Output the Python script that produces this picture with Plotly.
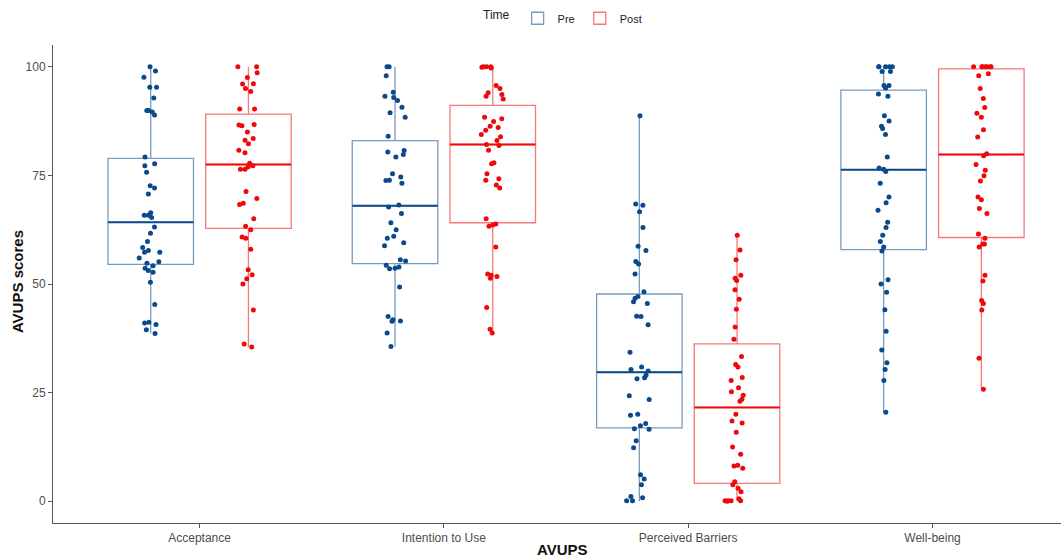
import plotly.graph_objects as go

categories = ["Acceptance", "Intention to Use", "Perceived Barriers", "Well-being"]
groups = ["Pre", "Post"]

# Raw (jittered) scores
acc_pre = [100, 99.0, 97.6, 95.3, 95.3, 92.8, 89.9, 89.6, 89.9, 88.9, 79.2, 77.7, 77.2, 75.7,
           72.6, 72.1, 70.7, 66.4, 65.8, 65.8, 65.3, 63.1, 61.7, 59.8, 58.4, 57.7, 57.3, 57.3,
           56.0, 55.1, 54.8, 54.2, 53.6, 53.1, 52.7, 50.4, 45.3, 41.0, 41.2, 40.7, 39.5, 38.6]
acc_post = [100, 98.6, 100, 97.5, 96.1, 96.0, 95.0, 94.3, 90.3, 90.3, 86.6, 86.7, 86.4, 85.0,
            83.5, 83.1, 82.3, 80.8, 80.2, 77.8, 77.2, 77.0, 76.4, 76.4, 71.3, 69.7, 68.6, 68.3,
            65.0, 63.3, 62.5, 60.8, 60.5, 58.0, 53.3, 52.1, 51.2, 50.0, 44.0, 36.2, 35.5]
int_pre = [100, 100, 97.9, 94.1, 93.2, 92.9, 92.2, 90.7, 89.4, 88.4, 84.0, 80.7, 80.4, 79.8,
           79.2, 75.4, 74.6, 73.8, 73.9, 73.2, 68.2, 67.7, 66.2, 64.1, 62.5, 61.0, 60.5, 59.5,
           58.8, 55.3, 55.6, 54.3, 53.9, 53.6, 53.5, 49.3, 42.5, 41.5, 41.8, 41.4, 38.7, 35.6]
int_post = [100, 100, 100, 99.9, 99.7, 95.7, 95.0, 94.0, 93.6, 93.2, 92.6, 88.4, 88.0, 87.4,
            86.3, 86.0, 85.4, 84.4, 83.9, 83.0, 82.1, 81.9, 80.8, 77.9, 77.7, 75.4, 74.2, 73.9,
            72.8, 72.1, 65.0, 63.8, 63.6, 63.3, 58.5, 52.3, 52.0, 51.7, 51.3, 44.6, 39.6, 38.7]
bar_pre = [88.7, 68.4, 68.1, 66.6, 63.0, 58.7, 57.7, 55.2, 54.6, 52.3, 48.2, 47.1, 46.7, 45.9,
           45.5, 42.5, 42.6, 40.6, 34.3, 30.9, 30.3, 30.0, 29.0, 28.4, 28.2, 24.3, 23.4, 20.0,
           19.8, 17.4, 17.9, 16.6, 16.7, 13.9, 12.3, 6.1, 5.1, 3.8, 1.1, 0.8, 0.1, 0.1]
bar_post = [61.2, 57.8, 55.6, 52.0, 51.3, 50.8, 48.7, 46.5, 44.2, 40.1, 37.3, 33.3, 31.5, 30.9,
            28.5, 27.8, 26.1, 25.2, 24.4, 23.5, 23.0, 20.0, 18.5, 18.0, 15.9, 12.5, 10.8, 8.3,
            8.1, 7.6, 4.5, 3.8, 3.0, 2.2, 0.1, 0.1, 0.1, 0.1, 0.6, 0.0]
wb_pre = [100, 100, 100, 100, 100, 98.9, 98.9, 95.7, 95.7, 95.1, 93.7, 93.2, 88.7, 87.5, 86.3,
          85.8, 84.4, 79.2, 76.7, 76.4, 75.9, 73.2, 70.0, 68.7, 67.0, 64.2, 63.0, 61.2, 59.8,
          58.5, 57.6, 51.0, 50.0, 48.1, 44.1, 39.1, 34.8, 31.9, 30.3, 27.8, 20.5]
wb_post = [100, 100, 100, 100, 100, 100, 100, 98.4, 97.9, 95.0, 92.7, 90.6, 89.3, 88.4, 85.5,
           83.8, 80.0, 79.5, 77.5, 76.2, 74.9, 73.7, 70.0, 69.4, 67.4, 66.2, 61.5, 60.5, 59.2,
           59.2, 58.5, 52.0, 50.7, 46.2, 45.5, 44.0, 32.9, 25.8]

# Box statistics (per category)
pre_q1 = [54.5, 54.7, 16.9, 57.9]
pre_med = [64.2, 68.0, 29.7, 76.3]
pre_q3 = [78.9, 83.0, 47.7, 94.6]
pre_lo = [38.6, 35.6, 0.0, 20.5]
pre_hi = [100, 100, 88.7, 100]
post_q1 = [62.8, 64.1, 4.1, 60.7]
post_med = [77.5, 82.1, 21.6, 79.8]
post_q3 = [89.1, 91.1, 36.2, 99.5]
post_lo = [35.5, 38.7, 0.0, 25.9]
post_hi = [100, 100, 61.2, 100]

pre_points = [acc_pre, int_pre, bar_pre, wb_pre]
post_points = [acc_post, int_post, bar_post, wb_post]

col = {"Pre": "#0A4A8C", "Post": "#EE0A0A"}
col_light = {"Pre": "rgba(10,74,140,0.55)", "Post": "rgba(238,10,10,0.55)"}

stats = {
    "Pre": (pre_q1, pre_med, pre_q3, pre_lo, pre_hi, pre_points),
    "Post": (post_q1, post_med, post_q3, post_lo, post_hi, post_points),
}

fig = go.Figure()
for g in groups:
    q1, med, q3, lo, hi, pts = stats[g]
    # box outline and whiskers
    fig.add_trace(go.Box(
        x=categories, q1=q1, median=med, q3=q3, lowerfence=lo, upperfence=hi,
        name=g, legendgroup=g, offsetgroup=g, showlegend=True,
        boxpoints=False, whiskerwidth=0,
        line=dict(color=col_light[g], width=1.3), fillcolor="rgba(255,255,255,0)",
        hoverinfo="skip",
    ))
for g in groups:
    q1, med, q3, lo, hi, pts = stats[g]
    # thicker median line
    fig.add_trace(go.Box(
        x=categories, q1=med, median=med, q3=med, lowerfence=med, upperfence=med,
        name=g, legendgroup=g, offsetgroup=g, showlegend=False,
        boxpoints=False, whiskerwidth=0,
        line=dict(color=col[g], width=2), fillcolor="rgba(255,255,255,0)",
        hoverinfo="skip",
    ))
for g in groups:
    q1, med, q3, lo, hi, pts = stats[g]
    xs, ys = [], []
    for c, vals in zip(categories, pts):
        xs += [c] * len(vals)
        ys += vals
    fig.add_trace(go.Box(
        x=xs, y=ys, name=g, legendgroup=g, offsetgroup=g, showlegend=False,
        boxpoints="all", jitter=0.3, pointpos=0,
        marker=dict(color=col[g], size=5),
        line=dict(color="rgba(0,0,0,0)", width=0), fillcolor="rgba(0,0,0,0)",
    ))

fig.update_layout(
    width=1061, height=558,
    paper_bgcolor="white", plot_bgcolor="white",
    boxmode="group", boxgap=0.2, boxgroupgap=0.125,
    margin=dict(l=53, r=0, t=45, b=35, autoexpand=False),
    font=dict(family="Liberation Sans, Arial, sans-serif", size=12, color="#4D4D4D"),
    legend=dict(
        orientation="h", x=0.507, xanchor="center", y=1.056, yanchor="middle",
        title=dict(text="Time", font=dict(size=12, color="#222")),
        font=dict(size=11, color="#222"),
        itemwidth=30,
    ),
    xaxis=dict(
        type="category", categoryorder="array", categoryarray=categories,
        range=[-0.6, 3.526], showline=True, linecolor="#555", linewidth=1,
        ticks="outside", ticklen=4, tickcolor="#555", showgrid=False, zeroline=False,
        tickfont=dict(size=12, color="#4D4D4D"), automargin=False,
    ),
    yaxis=dict(
        range=[-5, 105], tickvals=[0, 25, 50, 75, 100],
        showline=True, linecolor="#555", linewidth=1,
        ticks="outside", ticklen=4, tickcolor="#555", showgrid=False, zeroline=False,
        tickfont=dict(size=12, color="#4D4D4D"), automargin=False,
    ),
    annotations=[
        dict(text="<b>AVUPS scores</b>", xref="paper", yref="paper", x=-0.0357, y=0.504,
             xanchor="center", yanchor="middle", textangle=-90, showarrow=False,
             font=dict(size=15, color="#111")),
        dict(text="<b>AVUPS</b>", xref="paper", yref="paper", x=0.505, y=-0.0544,
             xanchor="center", yanchor="middle", showarrow=False,
             font=dict(size=15, color="#111")),
    ],
)

fig.write_html("out.html", config={"displayModeBar": False},
               post_script="document.body.style.margin='0px';")
